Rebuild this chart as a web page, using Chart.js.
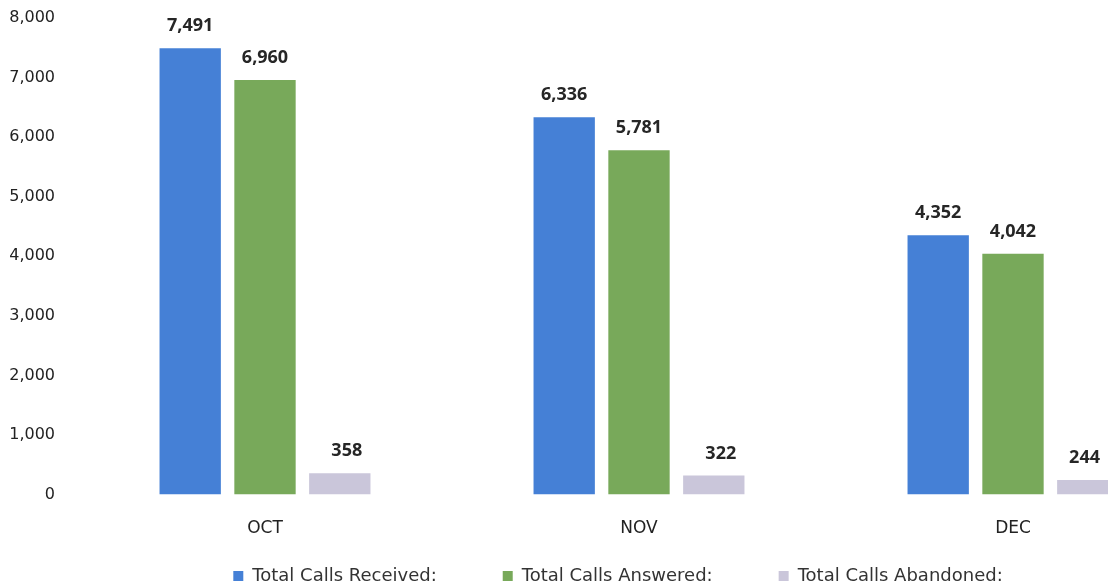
<!DOCTYPE html>
<html>
<head>
<meta charset="utf-8">
<script src="https://cdn.jsdelivr.net/npm/chart.js@4.4.0/dist/chart.umd.min.js"></script>
<style>
  html, body { margin: 0; padding: 0; background: #fff; overflow: hidden; }
  #wrap { position: relative; width: 1200px; height: 586px; }
</style>
</head>
<body>
<div id="wrap"><canvas id="callsChart"></canvas></div>
<script>
  /* dati del grafico */
  const months = ["OCT", "NOV", "DEC"];
  const callsReceived = [7491, 6336, 4352];
  const callsAnswered = [6960, 5781, 4042];
  const callsAbandoned = [358, 322, 244];
  const seriesNames = ["Total Calls Received:", "Total Calls Answered:", "Total Calls Abandoned:"];
  const yTicks = [0, 1000, 2000, 3000, 4000, 5000, 6000, 7000, 8000];

  /* etichette sopra le barre */
  const barLabels = {
    id: "barLabels",
    afterDatasetsDraw(chart) {
      const ctx = chart.ctx;
      const visibleRight = window.innerWidth;
      ctx.save();
      ctx.font = "bold 18px 'Open Sans', sans-serif";
      ctx.fillStyle = "#262626";
      ctx.textAlign = "center";
      ctx.textBaseline = "middle";
      chart.data.datasets.forEach((ds, i) => {
        const shift = i === 2 ? 7 : 0;
        chart.getDatasetMeta(i).data.forEach((bar, j) => {
          const txt = ds.data[j].toLocaleString("en-US");
          const half = ctx.measureText(txt).width / 2;
          const x = Math.min(bar.x + shift, visibleRight - half - 8);
          ctx.fillText(txt, x, bar.y - 22);
        });
      });
      ctx.restore();
    }
  };

  /* legenda piu bassa: spazio largo tra le voci ma poca altezza */
  const legendFit = {
    id: "legendFit",
    afterInit(chart) {
      const legend = chart.legend;
      if (!legend) return;
      const fit = legend.fit;
      legend.fit = function () { fit.call(this); this.height = 23; };
      const draw = legend.draw;
      legend.draw = function () {
        this.top -= 62; this.left += 18; this.right += 18;
        draw.call(this);
        this.top += 62; this.left -= 18; this.right -= 18;
      };
    }
  };

  const ctx = document.getElementById("callsChart").getContext("2d");
  new Chart(ctx, {
    type: "bar",
    data: {
      labels: months,
      datasets: [
        { label: seriesNames[0], data: callsReceived, backgroundColor: "#4580d6" },
        { label: seriesNames[1], data: callsAnswered, backgroundColor: "#78a95a" },
        { label: seriesNames[2], data: callsAbandoned, backgroundColor: "#cac6da" }
      ]
    },
    options: {
      responsive: true,
      maintainAspectRatio: false,
      animation: false,
      layout: { padding: { top: 18, left: 0, right: 0, bottom: 0 } },
      datasets: {
        bar: { categoryPercentage: 0.6, barPercentage: 0.82 }
      },
      scales: {
        x: {
          grid: { display: false, drawTicks: false },
          border: { display: false },
          ticks: {
            padding: 24,
            color: "#222",
            font: { family: "'DejaVu Sans', sans-serif", size: 17 }
          }
        },
        y: {
          min: 0,
          max: 8000,
          afterFit(scale) { scale.width = 78; scale.paddingTop = 0; },
          afterBuildTicks(scale) { scale.ticks = yTicks.map(v => ({ value: v })); },
          grid: { display: false, drawTicks: false },
          border: { display: false },
          ticks: {
            padding: 23,
            color: "#222",
            font: { family: "'DejaVu Sans', sans-serif", size: 16 },
            callback: v => v.toLocaleString("en-US")
          }
        }
      },
      plugins: {
        legend: {
          position: "bottom",
          labels: {
            boxWidth: 10,
            boxHeight: 10,
            padding: 66,
            color: "#333",
            font: { family: "'DejaVu Sans', sans-serif", size: 18 }
          }
        },
        tooltip: { enabled: false }
      }
    },
    plugins: [barLabels, legendFit]
  });
</script>
</body>
</html>
